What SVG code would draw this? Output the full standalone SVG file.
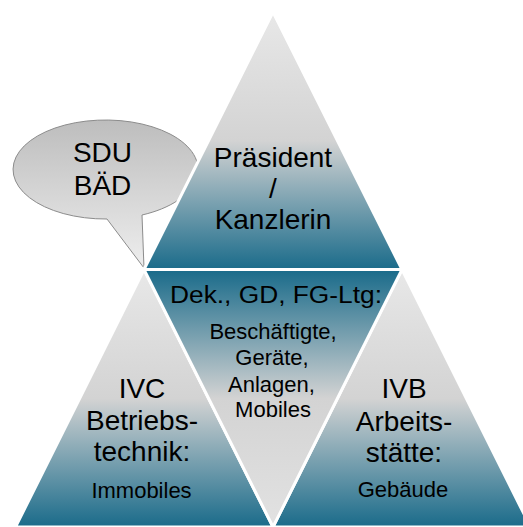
<svg xmlns="http://www.w3.org/2000/svg" width="523" height="527" viewBox="0 0 523 527">
  <defs>
    <linearGradient id="gTop" x1="0" y1="12" x2="0" y2="270" gradientUnits="userSpaceOnUse">
      <stop offset="0" stop-color="#e8e8e8"/>
      <stop offset="0.5" stop-color="#d3d3d3"/>
      <stop offset="1" stop-color="#1a6b8a"/>
    </linearGradient>
    <linearGradient id="gUp" x1="0" y1="270" x2="0" y2="527" gradientUnits="userSpaceOnUse">
      <stop offset="0" stop-color="#e8e8e8"/>
      <stop offset="0.5" stop-color="#d3d3d3"/>
      <stop offset="1" stop-color="#1a6b8a"/>
    </linearGradient>
    <linearGradient id="gDown" x1="0" y1="270" x2="0" y2="527" gradientUnits="userSpaceOnUse">
      <stop offset="0" stop-color="#1a6b8a"/>
      <stop offset="0.5" stop-color="#d3d3d3"/>
      <stop offset="1" stop-color="#e2e2e2"/>
    </linearGradient>
    <linearGradient id="gBubble" x1="0" y1="120" x2="0" y2="268" gradientUnits="userSpaceOnUse">
      <stop offset="0" stop-color="#bdbdbd"/>
      <stop offset="1" stop-color="#eeeeee"/>
    </linearGradient>
  </defs>
  <style>
    .tri { stroke: #ffffff; stroke-width: 3; stroke-linejoin: miter; }
    text { font-family: "Liberation Sans", Arial, sans-serif; fill: #000000; text-anchor: middle; }
    .big { font-size: 28px; }
    .small { font-size: 22px; }
    .mid { font-size: 23px; }
  </style>

  <g id="bubble">
    <path d="M142,215 A92.5,49.5 0 1 0 107,219 L144,268 Z" fill="url(#gBubble)" stroke="#8c8c8c" stroke-width="1"/>
    <text class="big" x="102.5" y="162">SDU</text>
    <text class="big" x="102.5" y="195">BÄD</text>
  </g>

  <g id="top">
    <polygon class="tri" points="273,12 144,269.5 402,269.5" fill="url(#gTop)"/>
    <text class="big" x="273" y="167">Präsident</text>
    <text class="big" x="273" y="198">/</text>
    <text class="big" x="273" y="229">Kanzlerin</text>
  </g>

  <g id="left">
    <polygon class="tri" points="144,269.5 15.5,527 273,527" fill="url(#gUp)"/>
    <text class="big" x="142" y="398">IVC</text>
    <text class="big" x="142" y="430">Betriebs-</text>
    <text class="big" x="142" y="461">technik:</text>
    <text class="small" x="141.5" y="498">Immobiles</text>
  </g>

  <g id="right">
    <polygon class="tri" points="402,269.5 273,527 530.5,527" fill="url(#gUp)"/>
    <text class="big" x="404" y="398">IVB</text>
    <text class="big" x="404" y="431">Arbeits-</text>
    <text class="big" x="404" y="462">stätte:</text>
    <text class="small" x="403" y="497">Gebäude</text>
  </g>

  <g id="middle">
    <polygon class="tri" points="144,269.5 402,269.5 273,527" fill="url(#gDown)"/>
    <text class="mid" x="276" y="303" textLength="212" lengthAdjust="spacingAndGlyphs">Dek., GD, FG-Ltg:</text>
    <text class="small" x="273" y="339">Beschäftigte,</text>
    <text class="small" x="272" y="365">Geräte,</text>
    <text class="small" x="271.5" y="392">Anlagen,</text>
    <text class="small" x="273" y="417">Mobiles</text>
  </g>

  <g id="connectors"></g>
</svg>
